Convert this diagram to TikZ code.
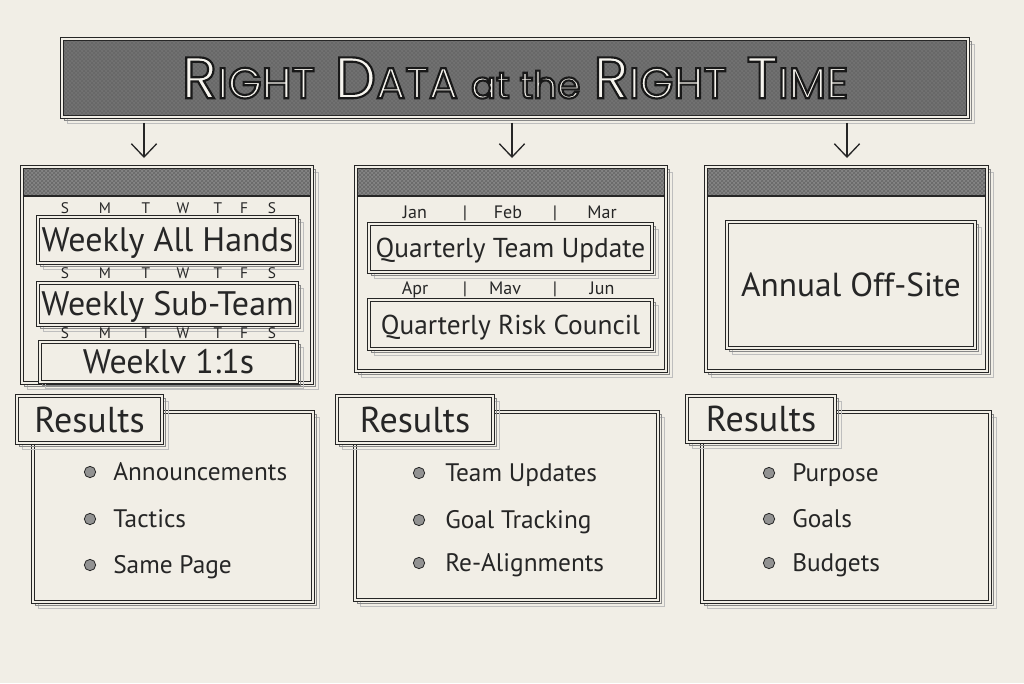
\documentclass[tikz,border=0pt]{standalone}
\usepackage{fontspec}
\setmainfont{PT Sans}
\newfontfamily\titlefont{Poppins}
\usetikzlibrary{arrows.meta,patterns,fit,calc}
\definecolor{bg}{HTML}{F1EEE6}
\definecolor{ink}{HTML}{262626}
\definecolor{hdr}{HTML}{858585}
\definecolor{bannerc}{HTML}{727272}
\definecolor{lettr}{HTML}{F6F4EE}
\pgfdeclarelayer{back}\pgfdeclarelayer{shadA}\pgfdeclarelayer{shadB}\pgfdeclarelayer{front}
\pgfsetlayers{back,shadA,main,shadB,front}
\newcommand\skshadow[1]{%
  \draw[shadl] ([shift={(5.5,5.5)}]#1.north west) rectangle ([shift={(5.5,5.5)}]#1.south east);
  \draw[shad] ([shift={(3,3)}]#1.north west) rectangle ([shift={(3,3)}]#1.south east);}
\newcommand\ttlbig{\fontsize{44}{44}\selectfont}
\newcommand\ttlsm{\fontsize{32.5}{32.5}\selectfont}
\newcommand\ttltext{\titlefont\ttlbig R\ttlsm IGHT\hspace{0.45em}\ttlbig D\ttlsm ATA\hspace{0.3em}{\fontsize{28}{28}\selectfont at the}\hspace{0.3em}\ttlbig R\ttlsm IGHT\hspace{0.45em}\ttlbig T\ttlsm IME}
\newcommand\outlined[1]{\special{pdf:literal direct 0.1 0.1 0.1 RG 2 Tr 1.6 w}#1\special{pdf:literal direct 0 Tr}}
\begin{document}
\begin{tikzpicture}[x=0.75pt,y=-0.75pt,
  frame/.style={draw=ink, line width=0.7pt, double=bg, double distance=1.1pt, fill=bg, inner sep=0pt},
  shad/.style={draw=ink!55, line width=0.6pt},
  shadl/.style={draw=ink!30, line width=0.6pt},
  hdrfill/.style={path picture={
      \fill[hdr] (path picture bounding box.north west) rectangle ([yshift=-21.75pt]path picture bounding box.north east);
      \fill[pattern=crosshatch, pattern color=ink!70] (path picture bounding box.north west) rectangle ([yshift=-21.75pt]path picture bounding box.north east);
      \draw[ink, line width=1pt] ([yshift=-21.75pt]path picture bounding box.north west) -- ([yshift=-21.75pt]path picture bounding box.north east);}},
  bannerfill/.style={path picture={
      \fill[bannerc] (path picture bounding box.north west) rectangle (path picture bounding box.south east);
      \fill[pattern=crosshatch, pattern color=ink!70] (path picture bounding box.north west) rectangle (path picture bounding box.south east);}},
  wk/.style={text=ink, inner sep=0pt, font=\fontsize{25.5}{25.5}\selectfont, text height=17.85pt, text depth=0pt},
  qt/.style={text=ink, inner sep=0pt, font=\fontsize{20.5}{20.5}\selectfont, text height=14.35pt, text depth=0pt},
  an/.style={text=ink, inner sep=0pt, font=\fontsize{25}{25}\selectfont, text height=17.5pt, text depth=0pt},
  rs/.style={text=ink, inner sep=0pt, font=\fontsize{27}{27}\selectfont, text height=18.9pt, text depth=0pt},
  day/.style={text=ink, font=\fontsize{11.5}{11.5}\selectfont, inner sep=0pt, text height=8pt, text depth=0pt},
  mon/.style={text=ink, font=\fontsize{13.5}{13.5}\selectfont, inner sep=0pt, text height=9.45pt, text depth=0pt},
  item/.style={text=ink, font=\fontsize{19}{19}\selectfont, inner sep=0pt, anchor=west, text height=13.3pt, text depth=0pt},
  bul/.style={circle, minimum size=8.5pt, inner sep=0pt, fill=ink!50, draw=ink, line width=0.6pt},
  arr/.style={draw=ink, line width=1pt, -{Straight Barb[length=10pt,width=19pt,line width=1pt]}},
  ttl/.style={inner sep=0pt}
]
\begin{pgfonlayer}{back}
\fill[bg] (0,0) rectangle (1024,683);
\end{pgfonlayer}
\useasboundingbox (0,0) rectangle (1024,683);

% banner
\node[frame, bannerfill, fit={(62,39)(968,117)}] (banner) {};
\node[ttl, text=lettr] (title) at (banner.center) {\outlined{\ttltext}};

% calendar panels
\node[frame, hdrfill, fit={(22,167)(312,383)}] (cal1) {};
\node[frame, hdrfill, fit={(356,167)(666,371)}] (cal2) {};
\node[frame, hdrfill, fit={(706,167)(987,371)}] (cal3) {};

% arrows
\coordinate (t1) at (144,158);
\coordinate (t2) at (512,158);
\coordinate (t3) at (847,158);
\foreach \t in {t1,t2,t3}
  \draw[arr, shorten <=4pt] (banner.south -| \t) -- (\t);

% results boxes
\node[frame, fit={(33,412)(313,602)}] (res1) {};
\node[frame, fit={(355,412)(658,600)}] (res2) {};
\node[frame, fit={(702,412)(990,602)}] (res3) {};

\begin{pgfonlayer}{front}
% weekly
\node[frame, fit={(38,217)(297,263)}] (w1) {};
\node[frame, fit={(38,283)(297,325)}] (w2) {};
\node[frame, fit={(40,342)(297,382)}] (w3) {};
\node[wk] (w1t) at (w1.center) {Weekly All Hands};
\node[wk] (w2t) at (w2.center) {Weekly Sub-Team};
\node[wk] (w3t) at (w3.center) {Weeklv 1:1s};
\foreach \yy/\r in {208/1,273/2,333/3}
  \foreach \xx/\l [count=\i] in {65/S,105/M,146/T,183/W,218/T,244/F,272/S}
    \node[day] (d\r-\i) at (\xx,\yy) {\l};
% quarterly
\node[frame, fit={(369,224)(652,272)}] (q1) {};
\node[frame, fit={(369,300)(652,349)}] (q2) {};
\node[qt] (q1t) at (q1.center) {Quarterly Team Update};
\node[qt] (q2t) at (q2.center) {Quarterly Risk Council};
\node[mon] (m1) at (415,212) {Jan};
\node[mon] (m2) at (465,212) {|};
\node[mon] (m3) at (508,212) {Feb};
\node[mon] (m4) at (555,212) {|};
\node[mon] (m5) at (602,212) {Mar};
\node[mon] (m6) at (415,288) {Apr};
\node[mon] (m7) at (465,288) {|};
\node[mon] (m8) at (505,288) {Mav};
\node[mon] (m9) at (555,288) {|};
\node[mon] (m10) at (602,288) {Jun};
% annual
\node[frame, fit={(727,222)(975,348)}] (a1) {};
\node[an] (a1t) at (a1.center) {Annual Off-Site};
% tabs
\node[frame, fit={(17,396)(162,443)}] (tab1) {};
\node[frame, fit={(337,396)(493,443)}] (tab2) {};
\node[frame, fit={(687,396)(835,442)}] (tab3) {};
\node[rs] (tab1t) at (tab1.center) {Results};
\node[rs] (tab2t) at (tab2.center) {Results};
\node[rs] (tab3t) at (tab3.center) {Results};
% items
\node[bul] (b1-1) at (90,472) {};
\node[bul] (b1-2) at (90,519) {};
\node[bul] (b1-3) at (90,565) {};
\node[item] (i1-1) at (113,472) {Announcements};
\node[item] (i1-2) at (113,519) {Tactics};
\node[item] (i1-3) at (113,565) {Same Page};
\node[bul] (b2-1) at (419,473) {};
\node[bul] (b2-2) at (419,520) {};
\node[bul] (b2-3) at (419,563) {};
\node[item] (i2-1) at (445,473) {Team Updates};
\node[item] (i2-2) at (445,520) {Goal Tracking};
\node[item] (i2-3) at (445,563) {Re-Alignments};
\node[bul] (b3-1) at (769,473) {};
\node[bul] (b3-2) at (769,519) {};
\node[bul] (b3-3) at (769,563) {};
\node[item] (i3-1) at (792,473) {Purpose};
\node[item] (i3-2) at (792,519) {Goals};
\node[item] (i3-3) at (792,563) {Budgets};
\end{pgfonlayer}

\begin{pgfonlayer}{shadA}
\foreach \n in {banner,cal1,cal2,cal3,res1,res2,res3} {\skshadow{\n}}
\end{pgfonlayer}
\begin{pgfonlayer}{shadB}
\foreach \n in {w1,w2,w3,q1,q2,a1,tab1,tab2,tab3} {\skshadow{\n}}
\end{pgfonlayer}
\end{tikzpicture}
\end{document}
